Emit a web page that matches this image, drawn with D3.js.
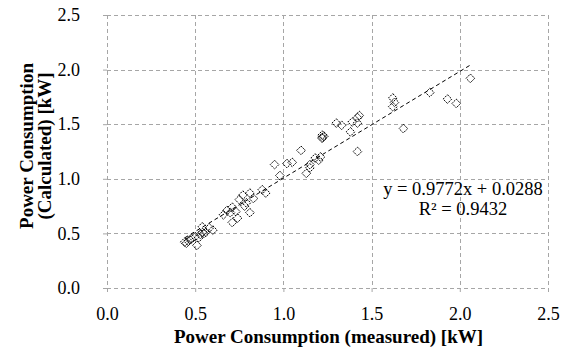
<!DOCTYPE html>
<html>
<head>
<meta charset="utf-8">
<script src="https://cdn.jsdelivr.net/npm/d3@7"></script>
<style>
  html, body { margin: 0; padding: 0; background: #fff; }
  svg { display: block; }
  text { font-family: "Liberation Serif", "Times New Roman", serif; fill: #000; }
</style>
</head>
<body>
<div id="chart"></div>
<script>
// ---- data ----
const xTicks = [0.0, 0.5, 1.0, 1.5, 2.0, 2.5];
const yTicks = [0.0, 0.5, 1.0, 1.5, 2.0, 2.5];
const measured = [
  0.44, 0.45, 0.47, 0.50, 0.53, 0.51, 0.56, 0.48, 0.46, 0.52, 0.55, 0.54, 0.54, 0.60, 0.58,
  0.66, 0.68, 0.70, 0.71, 0.71, 0.74, 0.75, 0.77, 0.79, 0.81, 0.81, 0.83, 0.88, 0.90, 0.78, 0.73,
  0.95, 0.98, 1.02, 1.05, 1.10, 1.13, 1.15, 1.15, 1.18, 1.20, 1.21,
  1.22, 1.22, 1.23, 1.22,
  1.30, 1.33, 1.38, 1.39, 1.42, 1.42, 1.43, 1.42,
  1.62, 1.62, 1.63, 1.68,
  1.83, 1.93, 1.98, 2.06
];
const calculated = [
  0.42, 0.41, 0.44, 0.47, 0.49, 0.39, 0.51, 0.45, 0.43, 0.46, 0.50, 0.56, 0.51, 0.53, 0.55,
  0.67, 0.71, 0.69, 0.74, 0.60, 0.64, 0.81, 0.85, 0.78, 0.87, 0.69, 0.82, 0.90, 0.87, 0.75, 0.70,
  1.13, 1.03, 1.14, 1.15, 1.26, 1.05, 1.13, 1.10, 1.19, 1.17, 1.20,
  1.38, 1.40, 1.39, 1.37,
  1.51, 1.49, 1.43, 1.52, 1.56, 1.51, 1.58, 1.25,
  1.66, 1.74, 1.70, 1.46,
  1.79, 1.73, 1.69, 1.92
];
const slope = 0.9772;
const intercept = 0.0288;
const equationText = "y = 0.9772x + 0.0288";
const r2Text = "R² = 0.9432";
const xTitle = "Power Consumption (measured) [kW]";
const yTitleLines = ["Power Consumption", "(Calculated) [kW]"];

// ---- layout ----
const W = 567, H = 351;
const m = { left: 107, top: 15, right: 19, bottom: 63 };
const pw = W - m.left - m.right, ph = H - m.top - m.bottom;

const svg = d3.select("#chart").append("svg").attr("width", W).attr("height", H);
const g = svg.append("g").attr("transform", `translate(${m.left},${m.top})`);

const x = d3.scaleLinear().domain([0, 2.5]).range([0, pw]);
const y = d3.scaleLinear().domain([0, 2.5]).range([ph, 0]);

const gridColor = "#a6a6a6";

// gridlines (dashed) including border
g.append("g").selectAll("line.v").data(xTicks).join("line")
  .attr("x1", d => Math.round(x(d)) + 0.5).attr("x2", d => Math.round(x(d)) + 0.5)
  .attr("y1", 0).attr("y2", ph)
  .attr("stroke", gridColor).attr("stroke-width", 1).attr("stroke-dasharray", "4,3");
g.append("g").selectAll("line.h").data(yTicks).join("line")
  .attr("y1", d => Math.round(y(d)) + 0.5).attr("y2", d => Math.round(y(d)) + 0.5)
  .attr("x1", 0).attr("x2", pw)
  .attr("stroke", gridColor).attr("stroke-width", 1).attr("stroke-dasharray", "4,3");

// axes with short outer ticks
const xAxis = g.append("g").attr("transform", `translate(0,${ph})`)
  .call(d3.axisBottom(x).tickValues(xTicks).tickSize(4).tickPadding(15).tickFormat(d3.format(".1f")));
const yAxis = g.append("g")
  .call(d3.axisLeft(y).tickValues(yTicks).tickSize(4).tickPadding(23).tickFormat(d3.format(".1f")));
[xAxis, yAxis].forEach(a => {
  a.select(".domain").remove();
  a.selectAll(".tick line").attr("stroke", gridColor);
  a.selectAll(".tick text").attr("font-size", 18).attr("font-family", "Liberation Serif").attr("fill", "#000");
});

// trendline
const xMin = d3.min(measured), xMax = d3.max(measured);
g.append("line")
  .attr("x1", x(xMin)).attr("y1", y(slope * xMin + intercept))
  .attr("x2", x(xMax)).attr("y2", y(slope * xMax + intercept))
  .attr("stroke", "#000").attr("stroke-width", 1).attr("stroke-dasharray", "4,3");

// diamond markers
const pts = measured.map((d, i) => [d, calculated[i]]);
const sym = d3.symbol().type(d3.symbolDiamond2).size(48);
g.append("g").selectAll("path").data(pts).join("path")
  .attr("d", sym)
  .attr("transform", d => `translate(${x(d[0])},${y(d[1])})`)
  .attr("fill", "none").attr("stroke", "#000").attr("stroke-width", 1).attr("stroke-dasharray", "2,1");

// equation labels (centered, Excel-style)
g.append("text").attr("x", 356).attr("y", 180).attr("text-anchor", "middle")
  .attr("font-size", 18.5).text(equationText);
g.append("text").attr("x", 356).attr("y", 200).attr("text-anchor", "middle")
  .attr("font-size", 18.5).text(r2Text);

// axis titles
svg.append("text").attr("x", m.left + pw / 2 + 1).attr("y", 343).attr("text-anchor", "middle")
  .attr("font-size", 19).attr("font-weight", "bold").text(xTitle);
const yt = svg.append("text").attr("transform", `translate(0,146) rotate(-90)`)
  .attr("text-anchor", "middle").attr("font-size", 19).attr("font-weight", "bold");
yt.append("tspan").attr("x", 0).attr("y", 33).text(yTitleLines[0]);
yt.append("tspan").attr("x", 0).attr("y", 51).text(yTitleLines[1]);
</script>
</body>
</html>
